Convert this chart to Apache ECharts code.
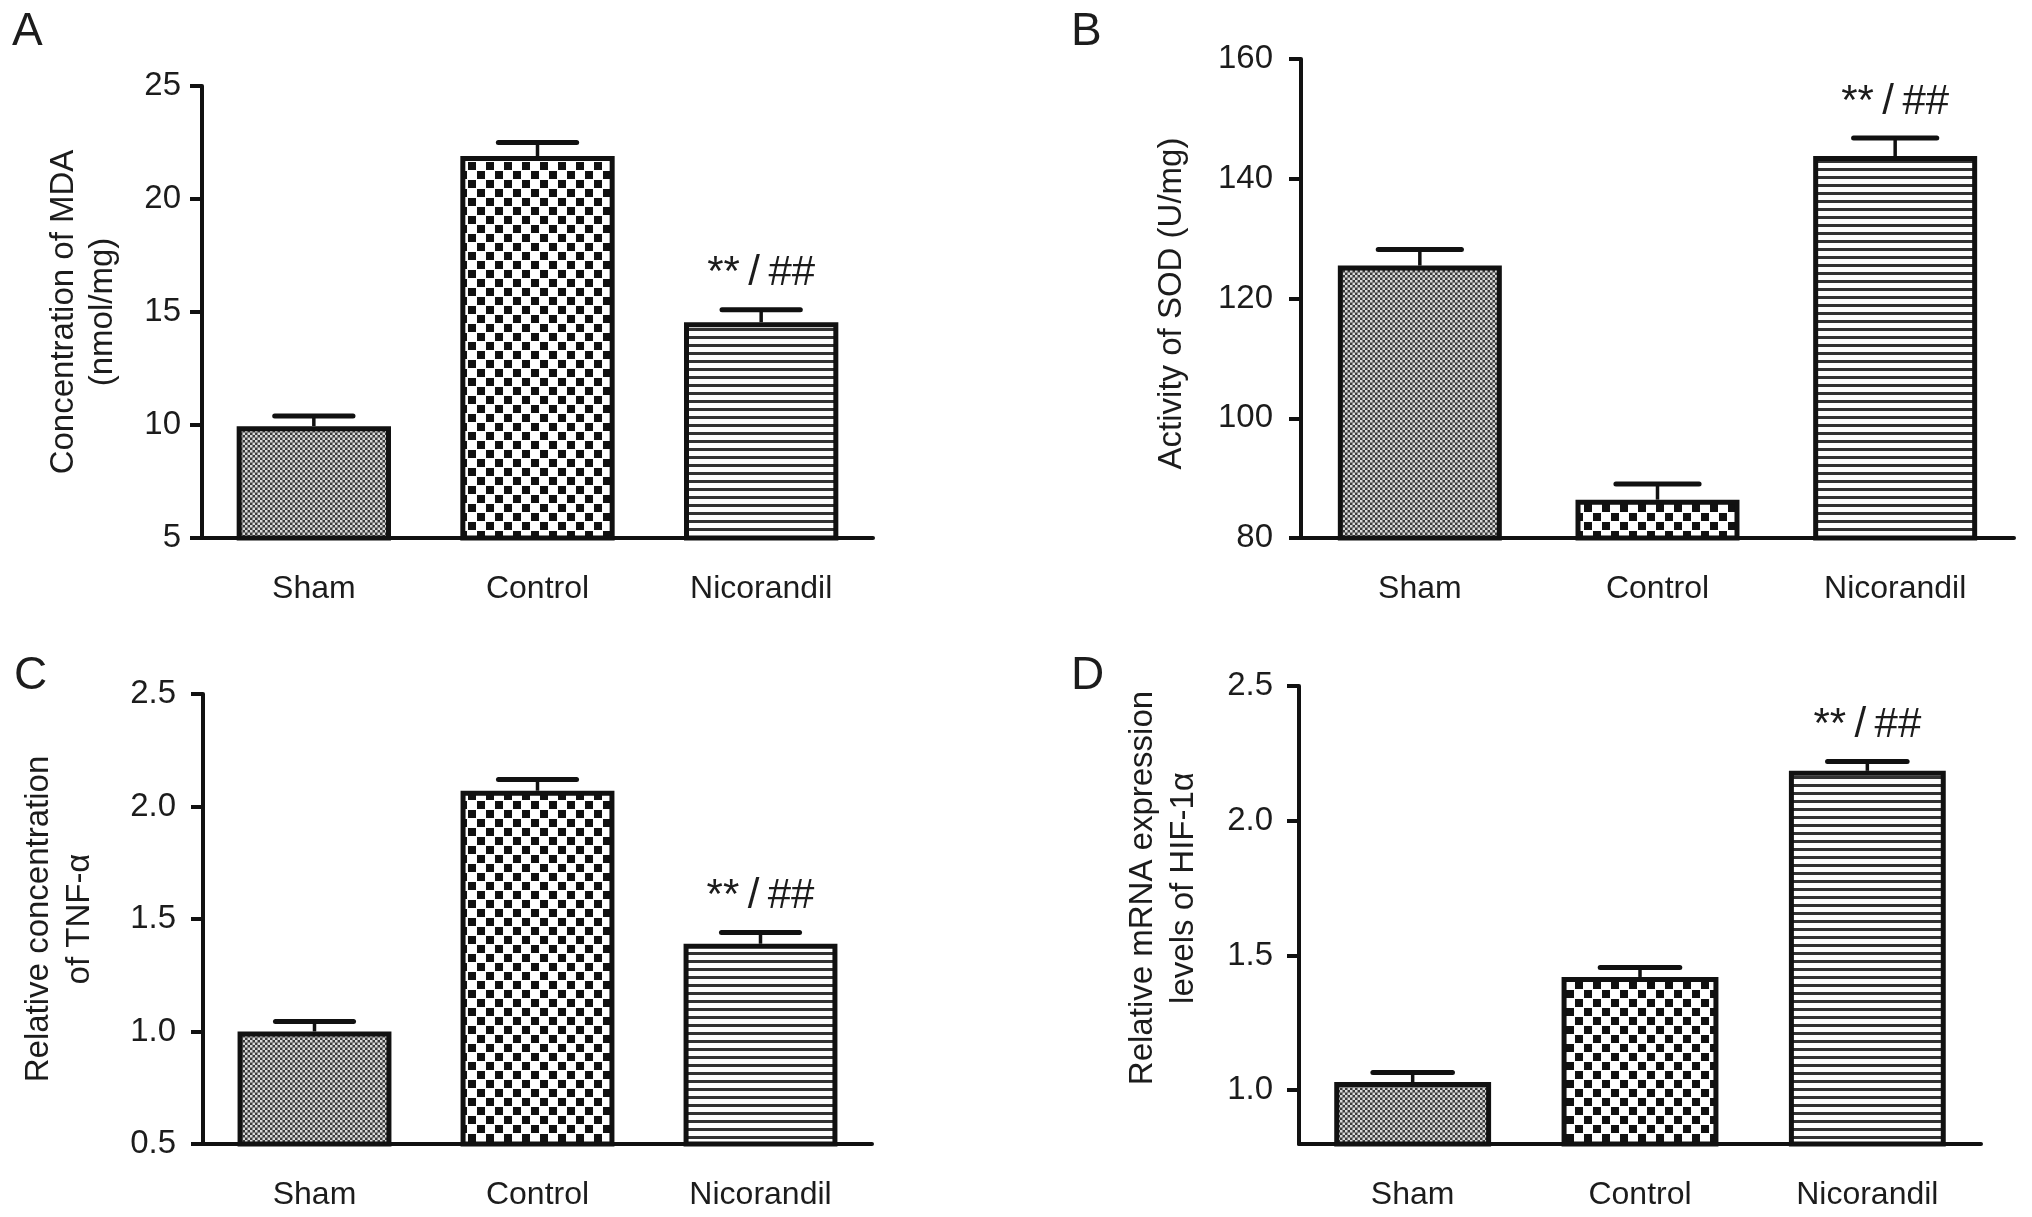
<!DOCTYPE html>
<html><head><meta charset="utf-8">
<script src="https://cdn.jsdelivr.net/npm/echarts@6/dist/echarts.min.js"></script>
<style>html,body{margin:0;padding:0;background:#fff}#c{width:2032px;height:1217px}</style>
</head><body><div id="c"></div>
<script>
// ---- data ----
const categories = ['Sham', 'Control', 'Nicorandil'];
const mdaMean = [9.95, 21.9, 14.55];
const mdaErr  = [0.45, 0.6, 0.55];
const sodMean = [125.5, 86.4, 143.8];
const sodErr  = [2.7, 2.6, 3.0];
const tnfMean = [1.0, 2.07, 1.39];
const tnfErr  = [0.045, 0.05, 0.05];
const hifMean = [1.03, 1.42, 2.185];
const hifErr  = [0.035, 0.035, 0.035];
const notesA = ['', '', '**\u2009/\u2009##'];
const notesB = ['', '', '**\u2009/\u2009##'];
const notesC = ['', '', '**\u2009/\u2009##'];
const notesD = ['', '', '**\u2009/\u2009##'];
const ticksD = [1.0, 1.5, 2.0, 2.5];
const panelLetters = ['A', 'B', 'C', 'D'];
const yNames = ['Concentration of MDA\n(nmol/mg)', 'Activity of SOD (U/mg)', 'Relative concentration\nof TNF-\u03b1', 'Relative mRNA expression\nlevels of HIF-1\u03b1'];

// ---- patterns ----
function pattern(kind) {
  const c = document.createElement('canvas');
  let ctx;
  if (kind === 'fine') {
    c.width = 10; c.height = 10; ctx = c.getContext('2d');
    ctx.fillStyle = '#3a3a3a'; ctx.fillRect(0, 0, 10, 10);
    ctx.fillStyle = '#d8d8d8';
    for (let i = 0; i < 2; i++) for (let j = 0; j < 2; j++) {
      ctx.fillRect(i * 5, j * 5, 2.5, 2.5);
      ctx.fillRect(i * 5 + 2.5, j * 5 + 2.5, 2.5, 2.5);
    }
  } else if (kind === 'coarse') {
    c.width = 18; c.height = 18; ctx = c.getContext('2d');
    ctx.fillStyle = '#fff'; ctx.fillRect(0, 0, 18, 18);
    ctx.fillStyle = '#111'; ctx.fillRect(0, 0, 8, 8); ctx.fillRect(9, 9, 8, 8);
  } else {
    c.width = 8; c.height = 8; ctx = c.getContext('2d');
    ctx.fillStyle = '#fff'; ctx.fillRect(0, 0, 8, 8);
    ctx.fillStyle = '#333'; ctx.fillRect(0, 0, 8, 3);
  }
  return { image: c, repeat: 'repeat' };
}
const fills = [pattern('fine'), pattern('coarse'), pattern('stripe')];

const FONT = '"Liberation Sans", Arial, Helvetica, sans-serif';
const INK = '#1c1c1c';

function errRenderer(notes) {
  return function (params, api) {
    const j = api.value(0), m = api.value(1), e = api.value(2);
    const p0 = api.coord([j, m]);
    const p1 = api.coord([j, m + e]);
    const bw = api.size([1, 0])[0];
    const hw = bw * 0.175;
    const children = [
      { type: 'line', shape: { x1: p0[0], y1: p0[1], x2: p1[0], y2: p1[1] }, style: { stroke: '#111', lineWidth: 3.5 } },
      { type: 'line', shape: { x1: p1[0] - hw, y1: p1[1], x2: p1[0] + hw, y2: p1[1] }, style: { stroke: '#111', lineWidth: 5, lineCap: 'round' } }
    ];
    if (notes[j]) {
      children.push({ type: 'text', x: p1[0], y: p1[1] - 36,
        style: { text: notes[j], fill: INK, font: '42px ' + FONT, align: 'center', verticalAlign: 'middle' } });
    }
    return { type: 'group', children };
  };
}

const grids = [
  { left: 202, top: 86, width: 671, height: 452 },
  { left: 1301, top: 59, width: 713, height: 479 },
  { left: 203, top: 694, width: 669, height: 450 },
  { left: 1299, top: 686, width: 682, height: 458 }
];
const axisLineStyle = { color: '#111', width: 4 };

const xAxes = grids.map((g, i) => ({
  type: 'category', gridIndex: i, data: categories,
  axisLine: { onZero: false, lineStyle: axisLineStyle },
  axisTick: { alignWithLabel: true, length: 13, lineStyle: axisLineStyle },
  axisLabel: { color: INK, fontSize: 32, margin: 35, fontFamily: FONT },
  splitLine: { show: false }
}));

const yBase = (i) => ({
  type: 'value', gridIndex: i,
  axisLine: { show: true, onZero: false, lineStyle: axisLineStyle },
  axisTick: { show: true, length: 12, lineStyle: axisLineStyle },
  splitLine: { show: false },
  name: yNames[i], nameLocation: 'middle'
});
const yAxes = [
  Object.assign(yBase(0), { min: 5, max: 25, interval: 5, nameGap: 80,
    axisLabel: { color: INK, fontSize: 33, margin: 21, fontFamily: FONT },
    nameTextStyle: { color: INK, fontSize: 33, lineHeight: 39, fontFamily: FONT } }),
  Object.assign(yBase(1), { min: 80, max: 160, interval: 20, nameGap: 113,
    axisLabel: { color: INK, fontSize: 33, margin: 28, fontFamily: FONT },
    nameTextStyle: { color: INK, fontSize: 33, fontFamily: FONT, padding: [0, 10, 0, 0] } }),
  Object.assign(yBase(2), { min: 0.5, max: 2.5, interval: 0.5, nameGap: 103,
    axisLabel: { color: INK, fontSize: 33, margin: 27, fontFamily: FONT, formatter: v => v.toFixed(1) },
    nameTextStyle: { color: INK, fontSize: 33, lineHeight: 41, fontFamily: FONT } }),
  Object.assign(yBase(3), { min: 0.8, max: 2.5, nameGap: 95,
    axisLabel: { color: INK, fontSize: 33, margin: 26, fontFamily: FONT, customValues: ticksD, formatter: v => Number(v).toFixed(1) },
    axisTick: { show: true, length: 12, lineStyle: axisLineStyle, customValues: ticksD },
    nameTextStyle: { color: INK, fontSize: 33, lineHeight: 41, fontFamily: FONT, padding: [0, 0, 0, 54] } })
];

const panels = [[mdaMean, mdaErr, notesA], [sodMean, sodErr, notesB], [tnfMean, tnfErr, notesC], [hifMean, hifErr, notesD]];
const series = [];
panels.forEach(([means, errs, notes], i) => {
  series.push({
    type: 'bar', xAxisIndex: i, yAxisIndex: i, barWidth: '69%', silent: true,
    itemStyle: { borderColor: '#111', borderWidth: 5 },
    data: means.map((v, j) => ({ value: v, itemStyle: { color: fills[j] } }))
  });
  series.push({
    type: 'custom', xAxisIndex: i, yAxisIndex: i, z: 5, clip: false, silent: true,
    renderItem: errRenderer(notes),
    data: means.map((m, j) => [j, m, errs[j]])
  });
});

const letterPos = [[12, 9], [1071, 9], [14, 653], [1071, 653]];
const option = {
  animation: false,
  backgroundColor: '#fff',
  textStyle: { fontFamily: FONT },
  title: panelLetters.map((t, i) => ({ text: t, left: letterPos[i][0], top: letterPos[i][1], padding: 0,
    textStyle: { fontSize: 46, fontWeight: 'normal', color: INK, fontFamily: FONT } })),
  grid: grids,
  xAxis: xAxes,
  yAxis: yAxes,
  series
};
const chart = echarts.init(document.getElementById('c'), null, { renderer: 'canvas' });
chart.setOption(option);
</script>
</body></html>
